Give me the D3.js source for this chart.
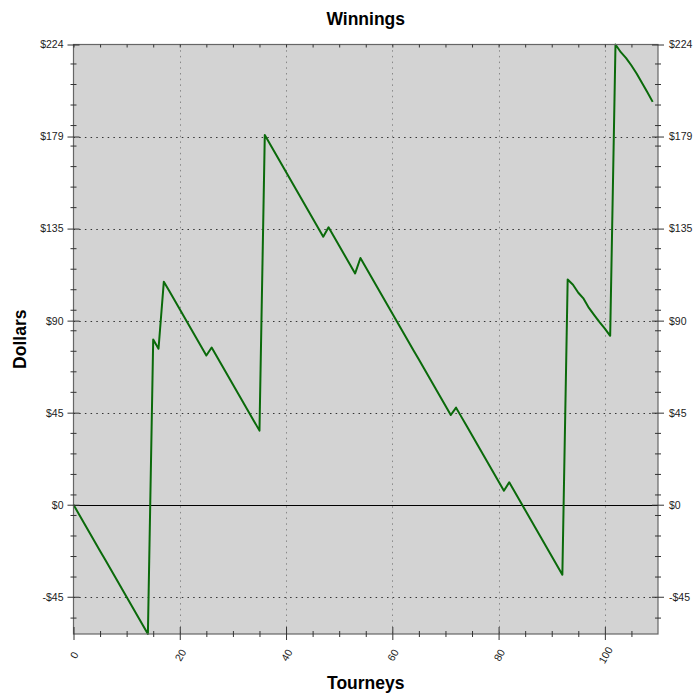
<!DOCTYPE html>
<html>
<head>
<meta charset="utf-8">
<script src="https://cdn.jsdelivr.net/npm/d3@7"></script>
<style>
    body { margin: 0; background: #fff; }
    text { font-family: "Liberation Sans", Arial, sans-serif; }
</style>
</head>
<body>
<div id="chart"></div>
<script>
// cumulative winnings after each tourney (index = tourney number)
const winnings = [
    0, -4.5, -9, -13.5, -18, -22.5, -27, -31.5, -36, -40.5,
    -45, -49.5, -54, -58.5, -63, 80.5, 76, 108.7, 104.2, 99.7,
    95.2, 90.7, 86.2, 81.7, 77.2, 72.7, 76.6, 72.1, 67.6, 63.1,
    58.6, 54.1, 49.6, 45.1, 40.6, 36.1, 180.1, 175.6, 171.1, 166.6,
    162.1, 157.6, 153.1, 148.6, 144.1, 139.6, 135.1, 130.6, 135.2, 130.7,
    126.2, 121.7, 117.2, 112.7, 120.2, 115.7, 111.2, 106.7, 102.2, 97.7,
    93.2, 88.7, 84.2, 79.7, 75.2, 70.7, 66.2, 61.7, 57.2, 52.7,
    48.2, 43.7, 47.3, 42.8, 38.3, 33.8, 29.3, 24.8, 20.3, 15.8,
    11.3, 6.8, 10.9, 6.4, 1.9, -2.6, -7.1, -11.6, -16.1, -20.6,
    -25.1, -29.6, -34.1, 109.7, 107.2, 103.3, 100.4, 95.9, 92.4, 89.0,
    85.8, 82.3, 224.25, 220.5, 217.6, 214.0, 210.0, 205.5, 201.0, 196.3
];

const xTicks = [0, 20, 40, 60, 80, 100];
const xMinorTicks = [5, 10, 15, 25, 30, 35, 45, 50, 55, 65, 70, 75, 85, 90, 95, 105];
const yTicks = [-44.85, 0, 44.85, 89.7, 134.55, 179.4, 224.25];
const yTickLabels = ["-$45", "$0", "$45", "$90", "$135", "$179", "$224"];
const yMinorTicks = [-55, -35, -25, -15, -5, 5, 15, 25, 35, 55, 65, 75, 85, 95, 105,
    115, 125, 145, 155, 165, 175, 185, 195, 205, 215];

const width = 700, height = 698;
const margin = { top: 44.5, right: 42, bottom: 64, left: 73.5 };

const svg = d3.select("#chart").append("svg")
    .attr("width", width)
    .attr("height", height);

const x = d3.scaleLinear()
    .domain([0, 110])
    .range([margin.left, width - margin.right]);

const y = d3.scaleLinear()
    .domain([d3.min(winnings), d3.max(winnings)])
    .range([height - margin.bottom, margin.top]);

// plot background
svg.append("rect")
    .attr("x", x(0))
    .attr("y", y(224.25))
    .attr("width", x(110) - x(0))
    .attr("height", y(-63) - y(224.25))
    .attr("fill", "#d3d3d3");

// grid
svg.append("g")
    .selectAll("line")
    .data(yTicks.filter(d => d !== 0 && d < 224))
    .join("line")
    .attr("x1", x(0)).attr("x2", x(110))
    .attr("y1", d => Math.round(y(d)) + 0.5)
    .attr("y2", d => Math.round(y(d)) + 0.5)
    .attr("stroke", "#333")
    .attr("stroke-dasharray", "1.5,4.2");

svg.append("g")
    .selectAll("line")
    .data(xTicks.filter(d => d > 0))
    .join("line")
    .attr("x1", d => Math.round(x(d)) + 0.5)
    .attr("x2", d => Math.round(x(d)) + 0.5)
    .attr("y1", y(224.25)).attr("y2", y(-63))
    .attr("stroke", "#888")
    .attr("stroke-dasharray", "1.5,4.2");

// zero line
svg.append("line")
    .attr("x1", x(0)).attr("x2", x(110))
    .attr("y1", Math.round(y(0)) + 0.5).attr("y2", Math.round(y(0)) + 0.5)
    .attr("stroke", "#000");

// winnings line
const line = d3.line()
    .x((d, i) => x(i))
    .y(d => y(d));

svg.append("path")
    .datum(winnings)
    .attr("fill", "none")
    .attr("stroke", "#0a6a0a")
    .attr("stroke-width", 2)
    .attr("stroke-linejoin", "round")
    .attr("d", line);

// border
svg.append("rect")
    .attr("x", x(0))
    .attr("y", y(224.25))
    .attr("width", x(110) - x(0))
    .attr("height", y(-63) - y(224.25))
    .attr("fill", "none")
    .attr("stroke", "#666")
    .attr("stroke-width", 1.2);

function styleAxis(g) {
    g.select(".domain").remove();
    g.selectAll(".tick line").attr("stroke", "#333");
    g.selectAll(".tick text").attr("fill", "#222").style("font-size", "10.5px");
}

// left axis
svg.append("g")
    .attr("transform", `translate(${x(0)},0)`)
    .call(d3.axisLeft(y).tickValues(yTicks).tickFormat((d, i) => yTickLabels[i])
        .tickSize(6).tickPadding(4).tickSizeOuter(0))
    .call(styleAxis)
    .call(g => g.selectAll(".tick line").attr("x1", 6));

svg.append("g")
    .attr("transform", `translate(${x(0)},0)`)
    .call(d3.axisLeft(y).tickValues(yMinorTicks).tickFormat("").tickSize(3).tickSizeOuter(0))
    .call(styleAxis)
    .call(g => g.selectAll(".tick line").attr("x1", 3));

// right axis
svg.append("g")
    .attr("transform", `translate(${x(110)},0)`)
    .call(d3.axisRight(y).tickValues(yTicks).tickFormat((d, i) => yTickLabels[i])
        .tickSize(6).tickPadding(5).tickSizeOuter(0))
    .call(styleAxis)
    .call(g => g.selectAll(".tick line").attr("x1", -6));

svg.append("g")
    .attr("transform", `translate(${x(110)},0)`)
    .call(d3.axisRight(y).tickValues(yMinorTicks).tickFormat("").tickSize(3).tickSizeOuter(0))
    .call(styleAxis)
    .call(g => g.selectAll(".tick line").attr("x1", -3));

// bottom axis
svg.append("g")
    .attr("transform", `translate(0,${y(-63)})`)
    .call(d3.axisBottom(x).tickValues(xTicks).tickSize(6).tickSizeOuter(0))
    .call(styleAxis)
    .call(g => g.selectAll(".tick line").attr("y1", -7))
    .call(g => g.selectAll(".tick text")
        .attr("y", 0).attr("dy", 0)
        .attr("text-anchor", "middle")
        .attr("transform", "translate(0,21) rotate(-60)")
        .attr("dominant-baseline", "central"));

svg.append("g")
    .attr("transform", `translate(0,${y(-63)})`)
    .call(d3.axisBottom(x).tickValues(xMinorTicks).tickFormat("").tickSize(3).tickSizeOuter(0))
    .call(styleAxis)
    .call(g => g.selectAll(".tick line").attr("y1", -3));

// top axis (inward ticks only)
svg.append("g")
    .attr("transform", `translate(0,${y(224.25)})`)
    .call(d3.axisBottom(x).tickValues(xTicks.concat(xMinorTicks)).tickFormat("").tickSize(3).tickSizeOuter(0))
    .call(styleAxis);

// titles
svg.append("text")
    .attr("x", (x(0) + x(110)) / 2)
    .attr("y", 25)
    .attr("text-anchor", "middle")
    .style("font-size", "17.5px")
    .style("font-weight", "bold")
    .text("Winnings");

svg.append("text")
    .attr("transform", `translate(26,${(y(-63) + y(224.25)) / 2}) rotate(-90)`)
    .attr("text-anchor", "middle")
    .style("font-size", "17.5px")
    .style("font-weight", "bold")
    .text("Dollars");

svg.append("text")
    .attr("x", (x(0) + x(110)) / 2)
    .attr("y", 689)
    .attr("text-anchor", "middle")
    .style("font-size", "17.5px")
    .style("font-weight", "bold")
    .text("Tourneys");
</script>
</body>
</html>
